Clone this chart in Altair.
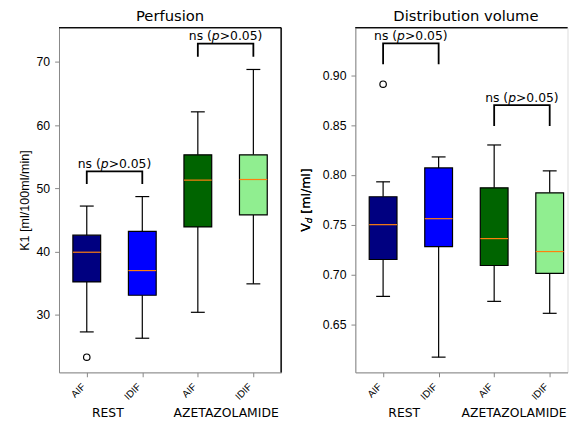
import json
import altair as alt
import pandas as pd

# ---------------- data ----------------
positions = [1, 2, 3, 4]
methods = ["AIF", "IDIF", "AIF", "IDIF"]
box_colors = ["#000080", "#0000ff", "#006400", "#90ee90"]
group_names = ["REST", "AZETAZOLAMIDE"]
group_label_pos = [1.38, 3.51]

perf_low = [27.3, 26.3, 30.4, 34.9]
perf_q1 = [35.2, 33.1, 43.9, 45.8]
perf_med = [39.9, 37.0, 51.3, 51.4]
perf_q3 = [42.6, 43.2, 55.3, 55.3]
perf_high = [47.2, 48.7, 62.1, 68.8]
perf_out_pos = [1]
perf_out_val = [23.3]
perf_br_x1 = [1, 3]
perf_br_x2 = [2, 4]
perf_br_leg = [50.7, 70.8]
perf_br_top = [52.7, 72.9]
perf_ticks = [30, 40, 50, 60, 70]
perf_domain = [20.9, 75.4]

vd_low = [0.678, 0.617, 0.673, 0.661]
vd_q1 = [0.715, 0.728, 0.709, 0.701]
vd_med = [0.750, 0.756, 0.736, 0.723]
vd_q3 = [0.778, 0.807, 0.787, 0.782]
vd_high = [0.793, 0.818, 0.830, 0.804]
vd_out_pos = [1]
vd_out_val = [0.891]
vd_br_x1 = [1, 3]
vd_br_x2 = [2, 4]
vd_br_leg = [0.911, 0.849]
vd_br_top = [0.932, 0.870]
vd_ticks = [0.65, 0.70, 0.75, 0.80, 0.85, 0.90]
vd_domain = [0.6017, 0.9477]

FONT = "DejaVu Sans"
H = 346
PX_PER_UNIT = 55.75   # horizontal scale of both panels
ANN_FS = 12.4
GRP_FS = 12.4


def panel(title, low, q1, med, q3, high, out_pos, out_val, bx1, bx2, bleg, btop,
          ticks, domain, yfmt, ytitle, width, right_border, title_dx):
    xmax = 0.5 + width / PX_PER_UNIT
    box = pd.DataFrame({"pos": positions, "color": box_colors, "low": low, "q1": q1,
                        "med": med, "q3": q3, "high": high})
    box["left"] = box["pos"] - 0.25
    box["right"] = box["pos"] + 0.25
    box["capl"] = box["pos"] - 0.125
    box["capr"] = box["pos"] + 0.125
    out = pd.DataFrame({"pos": out_pos, "val": out_val})
    rows = []
    for i in range(len(bx1)):
        rows += [{"id": i, "o": 0, "x": bx1[i], "y": bleg[i]},
                 {"id": i, "o": 1, "x": bx1[i], "y": btop[i]},
                 {"id": i, "o": 2, "x": bx2[i], "y": btop[i]},
                 {"id": i, "o": 3, "x": bx2[i], "y": bleg[i]}]
    br = pd.DataFrame(rows)
    ann = pd.DataFrame({"x": [(a + b) / 2 for a, b in zip(bx1, bx2)], "y": btop})
    # keep the group labels inside the drawable width
    half = [2.573 * GRP_FS / 2 / PX_PER_UNIT, 8.569 * GRP_FS / 2 / PX_PER_UNIT]
    gx = [min(p, xmax - h - 0.01) for p, h in zip(group_label_pos, half)]
    grp = pd.DataFrame({"x": gx, "name": group_names})

    xscale = alt.Scale(domain=[0.5, xmax], nice=False, zero=False)
    yscale = alt.Scale(domain=domain, nice=False, zero=False)
    xaxis = alt.Axis(values=positions, labelExpr=json.dumps(methods) + "[datum.value-1]",
                     labelAngle=-45, labelAlign="right", labelBaseline="middle",
                     labelOffset=-3.5, labelPadding=8, labelFontSize=9.9,
                     tickSize=4.4, grid=False, title=None)
    yaxis = alt.Axis(values=ticks, format=yfmt, labelFontSize=12.3, tickSize=4.4,
                     labelPadding=5, grid=False, title=ytitle if ytitle else None,
                     titleFontSize=12.6, titleFontWeight="normal", titlePadding=4.9)

    def X(f):
        return alt.X(f, type="quantitative", scale=xscale, axis=xaxis)

    def Y(f):
        return alt.Y(f, type="quantitative", scale=yscale, axis=yaxis)

    w1 = 1.863 * ANN_FS
    w2 = 0.635 * ANN_FS
    w3 = 3.454 * ANN_FS
    start = -(w1 + w2 + w3) / 2

    base = alt.Chart(box)
    lw = 1.2
    layers = [
        base.mark_rule(color="black", strokeWidth=lw).encode(x=X("pos"), y=Y("low"), y2="q1"),
        base.mark_rule(color="black", strokeWidth=lw).encode(x=X("pos"), y=Y("q3"), y2="high"),
        base.mark_rule(color="black", strokeWidth=lw).encode(x=X("capl"), x2="capr", y=Y("low")),
        base.mark_rule(color="black", strokeWidth=lw).encode(x=X("capl"), x2="capr", y=Y("high")),
        base.mark_rect(stroke="black", strokeWidth=lw).encode(
            x=X("left"), x2="right", y=Y("q1"), y2="q3",
            color=alt.Color("color:N", scale=None)),
        base.mark_rule(color="#ff7f0e", strokeWidth=lw).encode(x=X("left"), x2="right", y=Y("med")),
        alt.Chart(out).mark_point(shape="circle", filled=False, color="black", size=42,
                                  strokeWidth=lw, opacity=1).encode(x=X("pos"), y=Y("val")),
        alt.Chart(br).mark_line(color="black", strokeWidth=1.8, strokeJoin="miter").encode(
            x=X("x"), y=Y("y"), detail="id:N", order="o:Q"),
        alt.Chart(ann).mark_text(text="ns (", align="right", baseline="alphabetic",
                                 dx=start + w1, dy=-3.5, fontSize=ANN_FS, font=FONT,
                                 color="black").encode(x=X("x"), y=Y("y")),
        alt.Chart(ann).mark_text(text="p", align="left", baseline="alphabetic",
                                 dx=start + w1, dy=-3.5, fontSize=ANN_FS, font=FONT,
                                 fontStyle="italic", color="black").encode(x=X("x"), y=Y("y")),
        alt.Chart(ann).mark_text(text=">0.05)", align="left", baseline="alphabetic",
                                 dx=start + w1 + w2, dy=-3.5, fontSize=ANN_FS, font=FONT,
                                 color="black").encode(x=X("x"), y=Y("y")),
        alt.Chart(grp).mark_text(align="center", baseline="alphabetic", fontSize=GRP_FS,
                                 font=FONT, color="black").encode(
            x=X("x"), y=alt.value(H + 45), text="name:N"),
        # frame top edge
        alt.Chart(grp).mark_rule(color="black", strokeWidth=1).encode(
            x=alt.value(0), x2=alt.value(width), y=alt.value(0)),
    ]
    if right_border:
        layers.append(alt.Chart(grp).mark_rule(color="black", strokeWidth=1).encode(
            x=alt.value(width), y=alt.value(0), y2=alt.value(H)))
    if not ytitle:
        # V_d [ml/ml] with subscript, drawn as rotated text pieces
        fs = 12.6
        wv = 0.684 * fs
        wd = 0.635 * fs * 0.7
        wsp = 0.318 * fs
        wr = 3.621 * fs
        cy = H / 2
        y0 = cy + (wv + wd + wsp + wr) / 2
        tx = -46
        layers += [
            alt.Chart(grp).mark_text(text="V", angle=270, align="left", baseline="alphabetic",
                                     fontSize=fs, font=FONT, color="black").encode(
                x=alt.value(tx), y=alt.value(y0)),
            alt.Chart(grp).mark_text(text="d", angle=270, align="left", baseline="alphabetic",
                                     fontSize=fs * 0.7, font=FONT, fontStyle="italic",
                                     color="black").encode(
                x=alt.value(tx + 2.5), y=alt.value(y0 - wv)),
            alt.Chart(grp).mark_text(text="[ml/ml]", angle=270, align="left",
                                     baseline="alphabetic", fontSize=fs, font=FONT,
                                     color="black").encode(
                x=alt.value(tx), y=alt.value(y0 - wv - wd - wsp)),
        ]
    return alt.layer(*layers).properties(
        width=width, height=H,
        title=alt.TitleParams(title, fontSize=14.8, fontWeight="normal", font=FONT,
                              offset=3.5, dx=title_dx, color="black"))


left = panel("Perfusion", perf_low, perf_q1, perf_med, perf_q3, perf_high, perf_out_pos,
             perf_out_val, perf_br_x1, perf_br_x2, perf_br_leg, perf_br_top, perf_ticks,
             perf_domain, "d", "K1 [ml/100ml/min]", 223, True, 0)
right = panel("Distribution volume", vd_low, vd_q1, vd_med, vd_q3, vd_high, vd_out_pos,
              vd_out_val, vd_br_x1, vd_br_x2, vd_br_leg, vd_br_top, vd_ticks, vd_domain,
              ".2f", None, 213, False, 4.5)

chart = alt.hconcat(left, right, spacing=16.5).properties(
    padding={"left": 9.2, "top": -1, "right": 0, "bottom": 0}
).configure_view(strokeWidth=0).configure_axis(
    domainColor="black", tickColor="black", labelColor="black", titleColor="black",
    labelFont=FONT, titleFont=FONT, domainWidth=1, tickWidth=1
).configure(background="white")

chart.save("out.html", embed_options={"renderer": "svg", "actions": False})
